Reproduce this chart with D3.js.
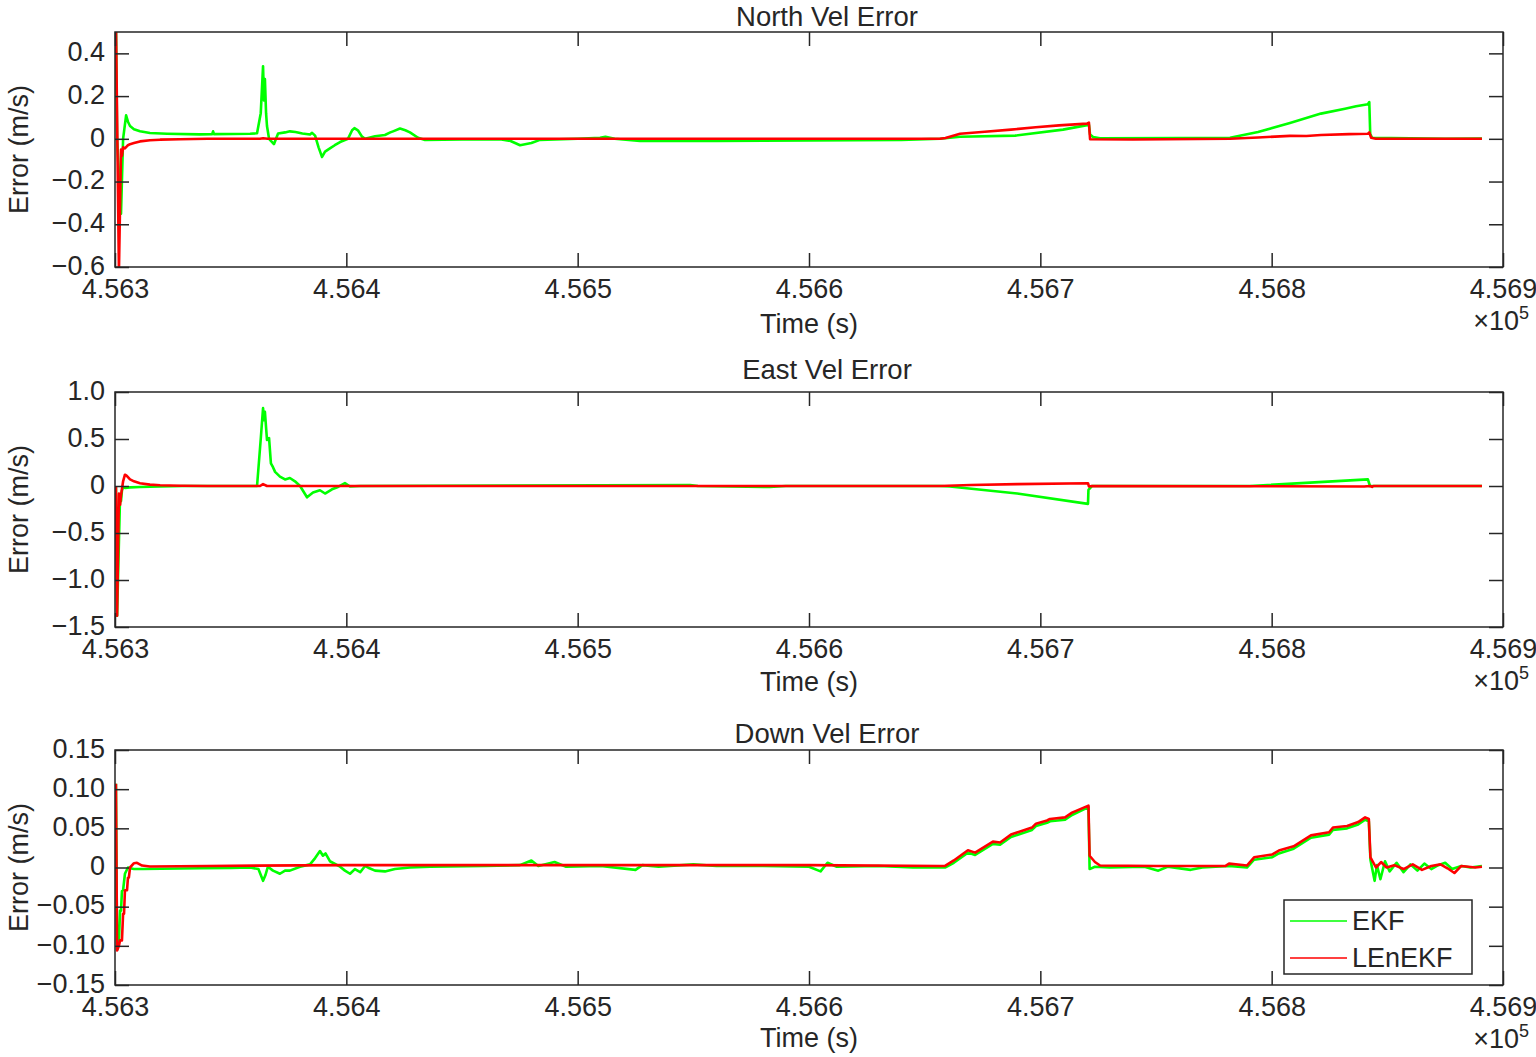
<!DOCTYPE html>
<html lang="en">
<head>
<meta charset="utf-8">
<style>
html, body {
    margin: 0;
    padding: 0;
    background: #fff;
}
svg text {
    font-family: "Liberation Sans", Arial, sans-serif;
    fill: #262626;
}
</style>
</head>
<body>
<div id="stage"></div>

<script src="https://cdn.jsdelivr.net/npm/d3@7/dist/d3.min.js"></script>
<script>

// time axis (s) and its tick labels (shown as x 10^5)
var xDomain = [456300, 456900]
var xTicks = [456300, 456400, 456500, 456600, 456700, 456800, 456900]
var xTickLabels = ["4.563", "4.564", "4.565", "4.566", "4.567", "4.568", "4.569"]

var northTicks = [-0.6, -0.4, -0.2, 0, 0.2, 0.4]
var northTickLabels = ["\u22120.6", "\u22120.4", "\u22120.2", "0", "0.2", "0.4"]
var eastTicks = [-1.5, -1.0, -0.5, 0, 0.5, 1.0]
var eastTickLabels = ["\u22121.5", "\u22121.0", "\u22120.5", "0", "0.5", "1.0"]
var downTicks = [-0.15, -0.10, -0.05, 0, 0.05, 0.10, 0.15]
var downTickLabels = ["\u22120.15", "\u22120.10", "\u22120.05", "0", "0.05", "0.10", "0.15"]

var seriesNames = ["EKF", "LEnEKF"]

// [time, error]
var northEKF = [
    [456300.4, 0.55], [456300.9, 0.0], [456302.6, -0.35], [456303.5, 0.0], [456304.8, 0.11],
    [456305.6, 0.08], [456306.5, 0.06], [456308.2, 0.045], [456310.8, 0.035], [456315.1, 0.027],
    [456322.5, 0.024], [456336.7, 0.021], [456342.0, 0.022], [456342.4, 0.035], [456342.8, 0.022],
    [456358.4, 0.024], [456361.4, 0.026], [456363.0, 0.12], [456364.0, 0.34], [456364.4, 0.18],
    [456364.8, 0.28], [456365.3, 0.12], [456365.7, 0.06], [456366.6, 0.0], [456367.4, -0.01],
    [456368.7, -0.025], [456369.6, 0.0], [456370.5, 0.025], [456373.5, 0.03], [456375.6, 0.035],
    [456378.0, 0.032], [456381.0, 0.025], [456384.3, 0.02], [456385.2, 0.028], [456386.5, 0.015],
    [456388.0, -0.04], [456389.5, -0.085], [456390.8, -0.06], [456392.9, -0.045], [456395.0, -0.03],
    [456397.3, -0.015], [456400.7, 0.0], [456402.5, 0.04], [456403.5, 0.05], [456405.0, 0.04],
    [456406.8, 0.01], [456408.1, 0.0], [456412.4, 0.012], [456416.7, 0.018], [456419.0, 0.03],
    [456420.2, 0.035], [456423.2, 0.048], [456425.5, 0.04], [456427.5, 0.03], [456431.0, 0.005],
    [456434.0, -0.005], [456450.0, -0.003], [456466.4, -0.002], [456471.0, -0.01], [456475.1, -0.03],
    [456480.0, -0.02], [456483.7, -0.005], [456500.0, 0.0], [456509.7, 0.005], [456512.0, 0.01],
    [456516.0, 0.0], [456526.9, -0.01], [456560.0, -0.01], [456600.0, -0.008], [456640.0, -0.005],
    [456656.6, 0.0], [456665.3, 0.01], [456689.1, 0.015], [456709.8, 0.043], [456720.2, 0.064],
    [456721.0, 0.066], [456721.5, 0.02], [456722.8, 0.008], [456725.8, 0.003], [456760.0, 0.004],
    [456782.0, 0.005], [456794.1, 0.032], [456807.9, 0.074], [456821.3, 0.118], [456831.7, 0.141],
    [456836.5, 0.152], [456841.6, 0.162], [456842.2, 0.172], [456842.6, 0.023], [456843.4, 0.005],
    [456860.0, 0.002], [456875.0, 0.0], [456890.9, 0.001]
]
var northLEnEKF = [
    [456300.4, 0.55], [456301.7, -0.62], [456302.6, -0.05], [456303.0, -0.08], [456303.5, -0.04],
    [456304.3, -0.045], [456305.6, -0.03], [456306.5, -0.025], [456308.2, -0.02], [456310.8, -0.012],
    [456315.1, -0.007], [456319.5, -0.004], [456328.1, -0.002], [456340.0, 0.0], [456362.7, 0.0],
    [456364.0, 0.003], [456366.0, 0.0], [456656.6, 0.0], [456659.0, 0.004],
    [456665.3, 0.024], [456676.0, 0.033], [456687.3, 0.043], [456698.0, 0.054], [456708.1, 0.063],
    [456720.2, 0.071], [456721.0, 0.076], [456721.5, -0.002], [456740.0, -0.003], [456782.0, 0.0],
    [456794.1, 0.006], [456807.9, 0.014], [456815.0, 0.013], [456821.3, 0.018], [456833.5, 0.022],
    [456841.6, 0.024], [456842.2, 0.03], [456843.0, 0.005], [456845.0, 0.0], [456890.9, 0.0]
]

var eastEKF = [
    [456300.4, 0.0], [456300.9, -1.38], [456302.2, -0.1], [456302.6, -0.16], [456303.0, -0.05],
    [456303.5, -0.01], [456304.3, -0.02], [456306.5, -0.015], [456310.8, -0.01], [456319.5, -0.005],
    [456330.0, 0.0], [456361.4, 0.0], [456363.0, 0.5], [456364.0, 0.83], [456364.4, 0.7],
    [456364.8, 0.79], [456365.7, 0.49], [456366.6, 0.51], [456367.4, 0.24], [456368.3, 0.2],
    [456369.2, 0.15], [456371.3, 0.1], [456373.5, 0.07], [456375.6, 0.085], [456377.8, 0.05],
    [456380.0, 0.0], [456383.0, -0.12], [456385.6, -0.07], [456388.6, -0.045], [456390.8, -0.08],
    [456393.8, -0.035], [456396.4, -0.01], [456399.4, 0.03], [456401.6, -0.005], [456405.9, 0.0],
    [456548.6, 0.01], [456552.0, 0.0], [456583.1, -0.01], [456590.0, 0.0], [456656.6, 0.0],
    [456660.9, -0.005], [456690.0, -0.08], [456720.6, -0.19], [456720.8, -0.04], [456722.3, 0.0],
    [456790.6, 0.0], [456841.6, 0.07], [456842.5, 0.0], [456890.9, 0.0]
]
var eastLEnEKF = [
    [456300.4, 0.0], [456300.9, -1.38], [456301.7, -0.08], [456302.2, -0.2], [456302.6, -0.1],
    [456303.5, 0.05], [456304.3, 0.12], [456305.0, 0.11], [456306.5, 0.07], [456308.2, 0.05],
    [456310.8, 0.03], [456315.1, 0.015], [456319.5, 0.008], [456328.1, 0.003], [456340.0, 0.0],
    [456362.7, 0.0], [456364.0, 0.02], [456365.7, 0.0], [456656.6, 0.0], [456670.0, 0.01],
    [456690.0, 0.02], [456720.6, 0.03], [456721.0, -0.005], [456722.3, 0.0], [456800.0, -0.003],
    [456840.0, -0.005], [456842.5, 0.0], [456843.4, -0.01], [456844.0, 0.0], [456890.9, 0.0]
]

var downEKF = [
    [456300.4, 0.107], [456300.9, -0.105], [456301.3, -0.1], [456301.7, -0.093], [456302.2, -0.055],
    [456302.6, -0.055], [456303.0, -0.03], [456303.5, -0.029], [456304.3, -0.008], [456305.6, 0.0],
    [456306.5, -0.001], [456308.2, -0.002], [456312.0, -0.002], [456320.0, -0.0015], [456336.7, -0.001],
    [456350.0, -0.0005], [456358.4, 0.0], [456362.0, -0.002], [456364.0, -0.017], [456365.0, -0.01],
    [456366.1, 0.001], [456368.3, -0.004], [456371.3, -0.008], [456373.5, -0.004], [456375.6, -0.004],
    [456380.0, 0.001], [456384.3, 0.004], [456386.5, 0.012], [456388.6, 0.021], [456389.9, 0.015],
    [456391.0, 0.018], [456392.9, 0.008], [456397.3, 0.001], [456399.4, -0.004], [456401.6, -0.008],
    [456403.7, -0.002], [456406.0, -0.006], [456408.1, 0.002], [456410.0, -0.001], [456412.4, -0.004],
    [456416.7, -0.005], [456421.0, -0.002], [456427.5, 0.0], [456436.2, 0.001], [456460.0, 0.002],
    [456475.0, 0.003], [456480.0, 0.009], [456483.0, 0.002], [456490.0, 0.007], [456495.0, 0.001],
    [456510.0, 0.002], [456525.0, -0.003], [456528.0, 0.003], [456535.0, 0.001], [456550.0, 0.004],
    [456560.0, 0.002], [456580.0, 0.002], [456600.0, 0.001], [456605.0, -0.005], [456608.0, 0.006],
    [456612.0, 0.001], [456630.0, 0.002], [456645.0, 0.0], [456658.8, 0.0], [456662.6, 0.006],
    [456668.7, 0.019], [456671.8, 0.016], [456679.5, 0.03], [456682.6, 0.029], [456687.3, 0.039],
    [456696.4, 0.048], [456698.1, 0.053], [456702.9, 0.057], [456704.2, 0.059], [456710.7, 0.061],
    [456713.7, 0.067], [456720.8, 0.077], [456721.3, -0.002], [456723.6, 0.001], [456730.0, 0.0],
    [456745.0, 0.001], [456751.0, -0.004], [456755.0, 0.001], [456765.0, -0.003], [456770.0, 0.0],
    [456781.6, 0.002], [456789.3, 0.0], [456792.4, 0.01], [456800.1, 0.013], [456803.1, 0.018],
    [456809.5, 0.024], [456817.0, 0.038], [456824.8, 0.042], [456826.5, 0.048], [456832.6, 0.05],
    [456837.4, 0.055], [456840.4, 0.061], [456842.0, 0.059], [456842.7, 0.01], [456844.5, -0.017],
    [456845.5, 0.003], [456847.0, -0.015], [456849.0, 0.008], [456851.0, -0.005], [456854.0, 0.006],
    [456857.0, -0.006], [456860.0, 0.004], [456863.0, -0.004], [456866.0, 0.005], [456869.0, -0.002],
    [456872.0, 0.003], [456875.0, 0.006], [456878.0, -0.002], [456882.0, 0.002], [456886.0, 0.0],
    [456890.9, 0.002]
]
var downLEnEKF = [
    [456300.4, 0.107], [456300.9, -0.106], [456301.7, -0.1], [456302.2, -0.093], [456303.0, -0.093],
    [456303.5, -0.059], [456303.9, -0.059], [456304.3, -0.029], [456305.2, -0.029], [456305.6, -0.013],
    [456306.0, -0.013], [456306.5, 0.0], [456308.2, 0.0055], [456309.5, 0.006], [456311.7, 0.0025],
    [456315.1, 0.0013], [456340.0, 0.002], [456400.0, 0.003], [456500.0, 0.003], [456600.0, 0.003],
    [456656.6, 0.002], [456658.8, 0.002], [456662.6, 0.009], [456668.7, 0.022], [456671.8, 0.019],
    [456679.5, 0.033], [456682.6, 0.032], [456687.3, 0.042], [456696.4, 0.051], [456698.1, 0.056],
    [456702.9, 0.06], [456704.2, 0.062], [456710.7, 0.064], [456713.7, 0.07], [456720.8, 0.079],
    [456721.3, 0.015], [456723.6, 0.007], [456725.8, 0.0025], [456750.0, 0.002], [456780.1, 0.002],
    [456781.6, 0.005], [456789.3, 0.0025], [456792.4, 0.013], [456800.1, 0.0165], [456803.1, 0.0216],
    [456809.5, 0.027], [456817.0, 0.041], [456824.8, 0.045], [456826.5, 0.051], [456832.6, 0.053],
    [456837.4, 0.058], [456840.4, 0.064], [456842.0, 0.062], [456842.7, 0.013], [456845.1, 0.0],
    [456847.3, 0.007], [456849.7, 0.0], [456853.0, 0.003], [456857.0, -0.002], [456861.0, 0.004],
    [456865.0, -0.003], [456869.0, 0.002], [456873.0, 0.004], [456876.0, -0.001], [456879.0, -0.007],
    [456882.0, 0.002], [456885.0, 0.001], [456888.0, 0.0], [456890.9, 0.001]
]

var colors = ["#00ff00", "#ff0000"]

var panels = [
    {title: "North Vel Error", top: 32, yDomain: [-0.6, 0.5], ticks: northTicks, labels: northTickLabels,
     series: [northEKF, northLEnEKF], titleY: 25.5, xlabelY: 333},
    {title: "East Vel Error", top: 392, yDomain: [-1.5, 1.0], ticks: eastTicks, labels: eastTickLabels,
     series: [eastEKF, eastLEnEKF], titleY: 379, xlabelY: 691},
    {title: "Down Vel Error", top: 750, yDomain: [-0.15, 0.15], ticks: downTicks, labels: downTickLabels,
     series: [downEKF, downLEnEKF], titleY: 743, xlabelY: 1047}
]

var W = 1536, H = 1057
var left = 115, right = 1503, ph = 235
var tickLen = 14
var axisColor = "#262626"
var fs = 27

var svg = d3.select("#stage").append("svg")
    .attr("width", W)
    .attr("height", H)

var x = d3.scaleLinear().domain(xDomain).range([left, right])

panels.forEach(function(p, k){

    var top = p.top, bottom = p.top + ph
    var y = d3.scaleLinear().domain(p.yDomain).range([bottom, top])

    var g = svg.append("g")

    g.append("clipPath").attr("id", "clip" + k)
        .append("rect")
        .attr("x", left).attr("y", top)
        .attr("width", right - left).attr("height", ph)

    var line = d3.line()
        .x(function(d){ return x(d[0]) })
        .y(function(d){ return y(d[1]) })

    var plot = g.append("g").attr("clip-path", "url(#clip" + k + ")")
    p.series.forEach(function(s, i){
        plot.append("path")
            .datum(s)
            .attr("d", line)
            .attr("fill", "none")
            .attr("stroke", colors[i])
            .attr("stroke-width", 2.6)
            .attr("stroke-linejoin", "round")
    })

    // axes via d3, ticks pointing inward
    var xb = d3.axisBottom(x).tickValues(xTicks).tickSizeInner(-tickLen).tickSizeOuter(0)
        .tickFormat(function(d, i){ return xTickLabels[i] })
    var xt = d3.axisTop(x).tickValues(xTicks).tickSizeInner(-tickLen).tickSizeOuter(0)
        .tickFormat("")
    var yl = d3.axisLeft(y).tickValues(p.ticks).tickSizeInner(-tickLen).tickSizeOuter(0)
        .tickFormat(function(d, i){ return p.labels[i] }).tickPadding(10)
    var yr = d3.axisRight(y).tickValues(p.ticks).tickSizeInner(-tickLen).tickSizeOuter(0)
        .tickFormat("")

    var ax = [
        g.append("g").attr("transform", "translate(0," + bottom + ")").call(xb),
        g.append("g").attr("transform", "translate(0," + top + ")").call(xt),
        g.append("g").attr("transform", "translate(" + left + ",0)").call(yl),
        g.append("g").attr("transform", "translate(" + right + ",0)").call(yr)
    ]
    ax.forEach(function(a){
        a.select(".domain").remove()
        a.selectAll(".tick line").attr("stroke", axisColor).attr("stroke-width", 1.5)
        a.selectAll("text").style("font-size", fs + "px")
            .style("font-family", '"Liberation Sans", Arial, sans-serif').attr("fill", axisColor)
    })
    ax[0].selectAll("text").attr("dy", null).attr("y", 31)
    ax[2].selectAll("text").attr("dy", "0.27em")

    g.append("rect")
        .attr("x", left).attr("y", top)
        .attr("width", right - left).attr("height", ph)
        .attr("fill", "none")
        .attr("stroke", axisColor)
        .attr("stroke-width", 1.5)

    g.append("text")
        .attr("x", 827).attr("y", p.titleY)
        .attr("text-anchor", "middle")
        .style("font-size", "27.5px")
        .text(p.title)

    g.append("text")
        .attr("x", (left + right) / 2).attr("y", p.xlabelY)
        .attr("text-anchor", "middle")
        .style("font-size", fs + "px")
        .text("Time (s)")

    var ex = g.append("text")
        .attr("x", 1529).attr("y", bottom + 63)
        .attr("text-anchor", "end")
        .style("font-size", fs + "px")
    ex.append("tspan").text("\u00d710")
    ex.append("tspan").attr("dy", -11).style("font-size", "18px").text("5")

    g.append("text")
        .attr("transform", "translate(28," + (top + ph / 2) + ") rotate(-90)")
        .attr("text-anchor", "middle")
        .style("font-size", fs + "px")
        .text("Error (m/s)")
})

// legend in the bottom panel
var lg = svg.append("g")
lg.append("rect")
    .attr("x", 1284).attr("y", 900)
    .attr("width", 188).attr("height", 74)
    .attr("fill", "#fff")
    .attr("stroke", axisColor)
    .attr("stroke-width", 1.5)
seriesNames.forEach(function(name, i){
    var yy = 921 + i * 37
    lg.append("line")
        .attr("x1", 1290).attr("x2", 1347)
        .attr("y1", yy).attr("y2", yy)
        .attr("stroke", colors[i])
        .attr("stroke-width", 1.5)
    lg.append("text")
        .attr("x", 1352).attr("y", yy + 9)
        .style("font-size", fs + "px")
        .text(name)
})

</script>
</body>
</html>
